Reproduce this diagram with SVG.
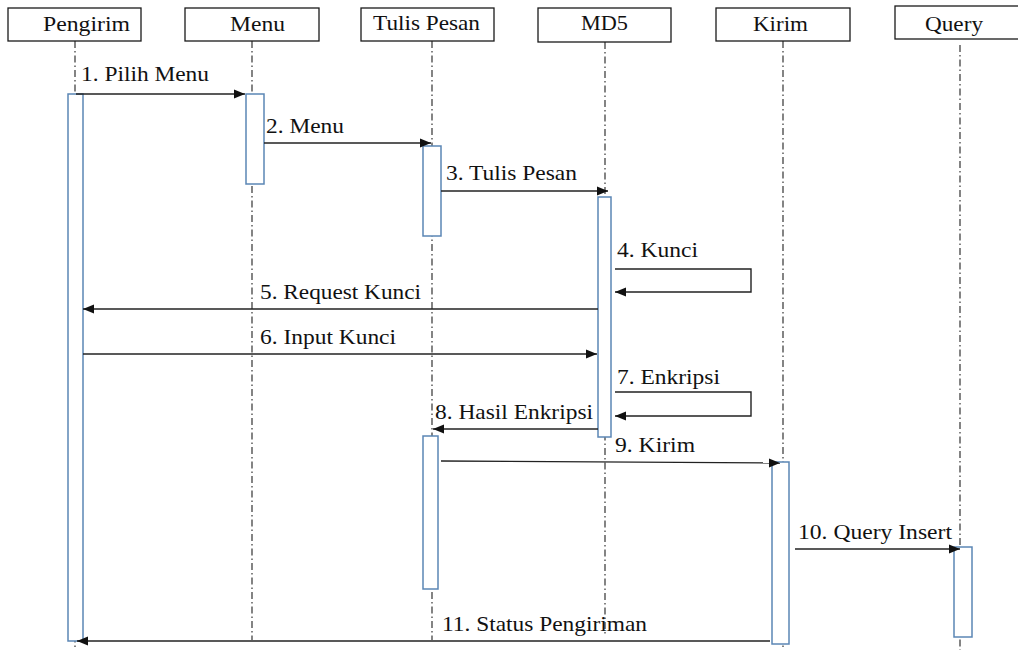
<svg xmlns="http://www.w3.org/2000/svg" width="1018" height="650" viewBox="0 0 1018 650">
  <style>
    .head { fill: #fff; stroke: #1a1a1a; stroke-width: 1.3; }
    .htxt { font-family: "Liberation Serif", serif; font-size: 22px; fill: #111; }
    .life { stroke: #333; stroke-width: 1.2; stroke-dasharray: 7 3 1.5 3; fill: none; }
    .act { fill: #fff; stroke: #5b86b5; stroke-width: 1.5; }
    .msg { stroke: #222; stroke-width: 1.4; fill: none; marker-end: url(#arrow); }
    .lbl { font-family: "Liberation Serif", serif; font-size: 22px; fill: #111; }
  </style>
  <defs>
    <marker id="arrow" markerUnits="userSpaceOnUse" markerWidth="12" markerHeight="10" refX="11" refY="5" orient="auto">
      <path d="M0,0.5 L11,5 L0,9.5 z" fill="#111"/>
    </marker>
  </defs>
  <rect width="1018" height="650" fill="#fff"/>

  <!-- lifelines -->
  <g id="lifelines">
    <line class="life" x1="75" y1="41" x2="75" y2="650"/>
    <line class="life" x1="252" y1="41" x2="252" y2="640"/>
    <line class="life" x1="432" y1="41" x2="432" y2="640"/>
    <line class="life" x1="605" y1="42" x2="605" y2="634"/>
    <line class="life" x1="783" y1="41" x2="783" y2="650"/>
    <line class="life" x1="960" y1="45" x2="960" y2="650"/>
  </g>

  <!-- participants -->
  <g id="pengirim">
    <rect class="head" x="8" y="8" width="133" height="33"/>
    <text class="htxt" x="43" y="31" textLength="87" lengthAdjust="spacingAndGlyphs">Pengirim</text>
    <rect class="act" x="68" y="94" width="15" height="547"/>
  </g>
  <g id="menu">
    <rect class="head" x="185" y="8" width="134" height="33"/>
    <text class="htxt" x="230" y="31" textLength="55" lengthAdjust="spacingAndGlyphs">Menu</text>
    <rect class="act" x="246" y="94" width="18" height="90"/>
  </g>
  <g id="tulis-pesan">
    <rect class="head" x="361" y="8" width="133" height="33"/>
    <text class="htxt" x="373" y="30" textLength="107" lengthAdjust="spacingAndGlyphs">Tulis Pesan</text>
    <rect class="act" x="423" y="146" width="18" height="90"/>
    <rect class="act" x="423" y="436" width="15" height="153"/>
  </g>
  <g id="md5">
    <rect class="head" x="538" y="8" width="133" height="34"/>
    <text class="htxt" x="581" y="30" textLength="47" lengthAdjust="spacingAndGlyphs">MD5</text>
    <rect class="act" x="598" y="197" width="13" height="240"/>
  </g>
  <g id="kirim">
    <rect class="head" x="716" y="8" width="134" height="33"/>
    <text class="htxt" x="753" y="31" textLength="55" lengthAdjust="spacingAndGlyphs">Kirim</text>
    <rect class="act" x="772" y="462" width="17" height="182"/>
  </g>
  <g id="query">
    <rect class="head" x="895" y="6" width="130" height="33"/>
    <text class="htxt" x="925" y="31" textLength="58" lengthAdjust="spacingAndGlyphs">Query</text>
    <rect class="act" x="954" y="547" width="18" height="90"/>
  </g>

  <!-- messages -->
  <g id="connectors">
    <line class="msg" x1="76" y1="94" x2="245" y2="94"/>
    <line class="msg" x1="264" y1="143" x2="431" y2="143"/>
    <line class="msg" x1="441" y1="191" x2="608" y2="191"/>
    <polyline class="msg" points="615,269 751,269 751,292 615,292"/>
    <line class="msg" x1="598" y1="309" x2="83" y2="309"/>
    <line class="msg" x1="83" y1="354" x2="597" y2="354"/>
    <polyline class="msg" points="615,392 751,392 751,416 615,416"/>
    <line class="msg" x1="598" y1="429" x2="433" y2="429"/>
    <line class="msg" x1="441" y1="461" x2="780" y2="463"/>
    <line class="msg" x1="795" y1="549" x2="960" y2="549"/>
    <line class="msg" x1="770" y1="641" x2="77" y2="641"/>
  </g>

  <!-- message labels -->
  <g id="labels">
    <text class="lbl" x="81" y="81" textLength="128" lengthAdjust="spacingAndGlyphs">1. Pilih Menu</text>
    <text class="lbl" x="266" y="133" textLength="78" lengthAdjust="spacingAndGlyphs">2. Menu</text>
    <text class="lbl" x="446" y="180" textLength="131" lengthAdjust="spacingAndGlyphs">3. Tulis Pesan</text>
    <text class="lbl" x="617" y="257" textLength="81" lengthAdjust="spacingAndGlyphs">4. Kunci</text>
    <text class="lbl" x="260" y="299" textLength="161" lengthAdjust="spacingAndGlyphs">5. Request Kunci</text>
    <text class="lbl" x="260" y="344" textLength="136" lengthAdjust="spacingAndGlyphs">6. Input Kunci</text>
    <text class="lbl" x="617" y="384" textLength="103" lengthAdjust="spacingAndGlyphs">7. Enkripsi</text>
    <text class="lbl" x="435" y="419" textLength="158" lengthAdjust="spacingAndGlyphs">8. Hasil Enkripsi</text>
    <text class="lbl" x="615" y="452" textLength="80" lengthAdjust="spacingAndGlyphs">9. Kirim</text>
    <text class="lbl" x="798" y="539" textLength="154" lengthAdjust="spacingAndGlyphs">10. Query Insert</text>
    <text class="lbl" x="442" y="631" textLength="205" lengthAdjust="spacingAndGlyphs">11. Status Pengiriman</text>
  </g>
</svg>
